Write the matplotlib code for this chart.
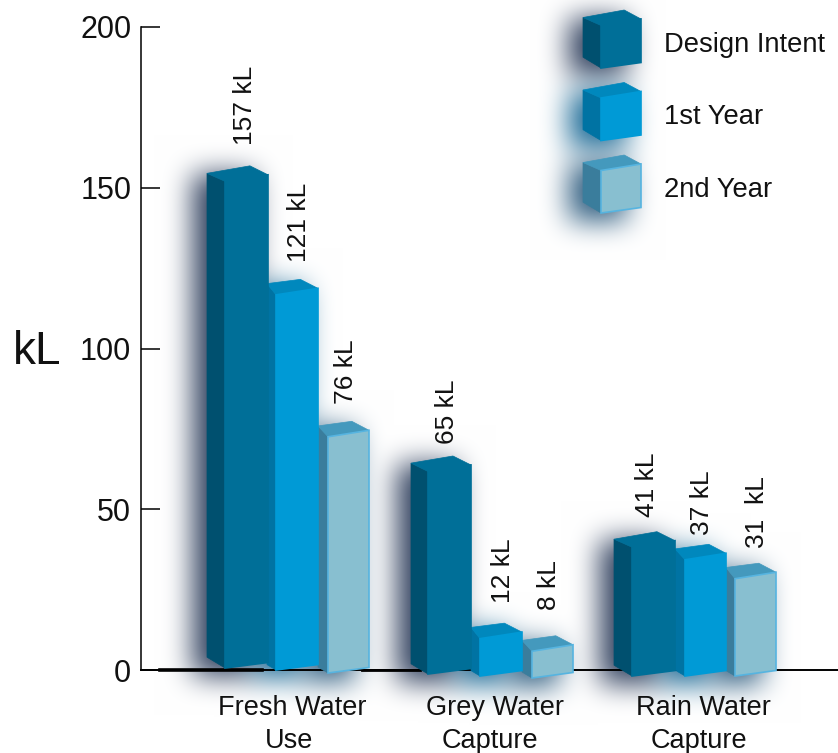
import numpy as np
import matplotlib
matplotlib.use("Agg")
from matplotlib import pyplot as plt
from matplotlib.patches import Polygon
from matplotlib.path import Path

plt.rcParams['font.family'] = ['Liberation Sans', 'DejaVu Sans']

# Water volumes in kL
groups = [("Fresh Water", "Use"), ("Grey Water", "Capture"), ("Rain Water", "Capture")]
series_names = ["Design Intent", "1st Year", "2nd Year"]
design_intent = [157, 65, 41]
first_year = [121, 12, 37]
second_year = [76, 8, 31]
y_ticks = [0, 50, 100, 150, 200]

W, H = 838, 753
Y0_PX, Y200_PX = 670, 27
PX = (Y0_PX - Y200_PX) / 200  # pixels per kL

# face colours per series: front, side, top, edge, shadow
front = ["#006f98", "#009ad6", "#88bfd0"]
side = ["#00506f", "#0073a3", "#3a7d9c"]
top = ["#006f98", "#0088bd", "#4499bd"]
edge = ["#006f98", "#009ad6", "#56b4e0"]
glow = [(0.10, 0.17, 0.30), (0.02, 0.36, 0.55), (0.10, 0.30, 0.45)]

# x edges of each box: back left, front left, right
box_x = [
    [(207, 225, 268), (267, 276, 318), (318, 328, 369)],
    [(411, 428, 471), (471, 480, 522), (522, 532, 573)],
    [(614, 632, 675), (675, 685, 726), (726, 735, 776)],
]
# how far each box's front corner hangs below the floor line, px
box_drop = [[-2, 0, 3], [4, 6, 8], [6, 6, 6]]
# value label centre x and gap above the box, px
label_x = [[245, 299, 346], [447, 503, 549], [647, 702, 757]]
label_gap = [[21, 17, 17], [12, 20, 26], [15, 9, 15]]


def to_y(py):
    return (Y0_PX - py) / PX


fig = plt.figure(figsize=(W / 100, H / 100), dpi=100)
ax = fig.add_axes([141 / W, (H - Y0_PX) / H, (W - 141) / W, (Y0_PX - Y200_PX) / H])
ax.set_xlim(141, W)
ax.set_ylim(0, 200)
ax.patch.set_visible(False)
fig.patch.set_visible(False)


def box_faces(x0, x1, x2, apex, floor):
    """Top, side and front polygons of one box. apex and floor are in kL."""
    d = (x2 - x1) * 0.42  # horizontal distance apex to right corner
    ax_x = x2 - d
    skew = 5.5 / PX
    a = 15.5 / PX
    tp = [(x0, apex - (a - 9 / PX) * (x1 - x0) / 18 - 1 / PX), (ax_x, apex), (x2, apex - 9 / PX), (x1, apex - a)]
    sd = [tp[0], tp[3], (x1, floor), (x0, floor + (x1 - x0) * 0.6 / PX)]
    fr = [tp[3], tp[2], (x2, floor + skew), (x1, floor)]
    return tp, sd, fr


def add_box(faces, k):
    tp, sd, fr = faces
    ax.add_patch(Polygon(sd, fc=side[k], ec=side[k], lw=0.5, zorder=3, clip_on=False))
    ax.add_patch(Polygon(tp, fc=top[k], ec=top[k], lw=0.5, zorder=3, clip_on=False))
    ax.add_patch(Polygon(fr, fc=front[k], ec=edge[k], lw=1.2, zorder=4, clip_on=False))


def blur(a, radius, passes=3):
    kernel = np.ones(2 * radius + 1) / (2 * radius + 1)
    for _ in range(passes):
        a = np.apply_along_axis(np.convolve, 0, a, kernel, mode='same')
        a = np.apply_along_axis(np.convolve, 1, a, kernel, mode='same')
    return a


outlines = [[], [], []]

# the bars
for g, values in enumerate(zip(design_intent, first_year, second_year)):
    for k, v in enumerate(values):
        x0, x1, x2 = box_x[g][k]
        # the back edge of a box stands a little behind the floor line
        apex = 2.8 + 0.981 * v
        faces = box_faces(x0, x1, x2, apex, -box_drop[g][k] / PX)
        add_box(faces, k)
        outlines[k].append(faces[1] + faces[0] + faces[2])
        ax.text(label_x[g][k], apex + label_gap[g][k] / PX,
                (str(v) + "  kL") if (g, k) == (2, 2) else (str(v) + " kL"),
                rotation=90, ha='center', va='bottom', fontsize=19, color='#111111',
                zorder=5, clip_on=False)

# legend cubes and their names
for k, name in enumerate(series_names):
    dy = 72.5 * k
    faces = box_faces(583, 601, 641, to_y(10 + dy), to_y(68 + dy))
    add_box(faces, k)
    outlines[k].append(faces[1] + faces[0] + faces[2])
    ax.text(664, to_y(45 + dy), name, ha='left', va='center', fontsize=19.7,
            color='#111111', clip_on=False)

# soft coloured shadow behind every box
fig.canvas.draw()
gx, gy = np.meshgrid(np.arange(W) + 0.5, np.arange(H) + 0.5)
grid = np.column_stack([gx.ravel(), gy.ravel()])
rgb = np.ones((H, W, 3))
for k in range(3):
    mask = np.zeros(W * H, dtype=bool)
    for outline in outlines[k]:
        pts = ax.transData.transform(outline)
        xs, ys = pts[:, 0] - 14, H - pts[:, 1] + 8
        # shadow of the bounding shape of the box
        rect = Path([(xs.min(), ys.min()), (xs.max(), ys.min()), (xs.max(), ys.max()), (xs.min(), ys.max())])
        mask |= rect.contains_points(grid)
    alpha = blur(mask.reshape(H, W).astype(float), 13)
    alpha = np.clip(alpha * 0.9, 0, 0.95)[..., None]
    rgb = rgb * (1 - alpha) + np.array(glow[k]) * alpha
fig.figimage(rgb, origin='upper', zorder=-1)

# axes
for s in ('top', 'right'):
    ax.spines[s].set_visible(False)
ax.spines['left'].set_linewidth(1.1)
ax.spines['bottom'].set_linewidth(1.4)
ax.spines['left'].set_zorder(2)
ax.spines['bottom'].set_zorder(2)
ax.plot([160, 262], [0, 0], color='black', lw=2.6, zorder=2, clip_on=False)
ax.plot([362, 420], [0, 0], color='black', lw=2.0, zorder=2, clip_on=False)
ax.set_xticks([])
ax.set_yticks(y_ticks)
ax.tick_params(axis='y', direction='in', length=13.5, width=1.1, pad=7, labelsize=22, labelcolor='#111111')
ax.text(37, 99, "kL", ha='center', va='center', fontsize=33, color='#111111', clip_on=False)

# group names on two lines
line1_x = [292, 495, 703]
line2_x = [289, 490, 699]
for g, (a, b) in enumerate(groups):
    ax.text(line1_x[g], to_y(708), a, ha='center', va='center', fontsize=19.5, color='#111111', clip_on=False)
    ax.text(line2_x[g], to_y(741), b, ha='center', va='center', fontsize=19.5, color='#111111', clip_on=False)

fig.savefig("out.png", dpi=100)
